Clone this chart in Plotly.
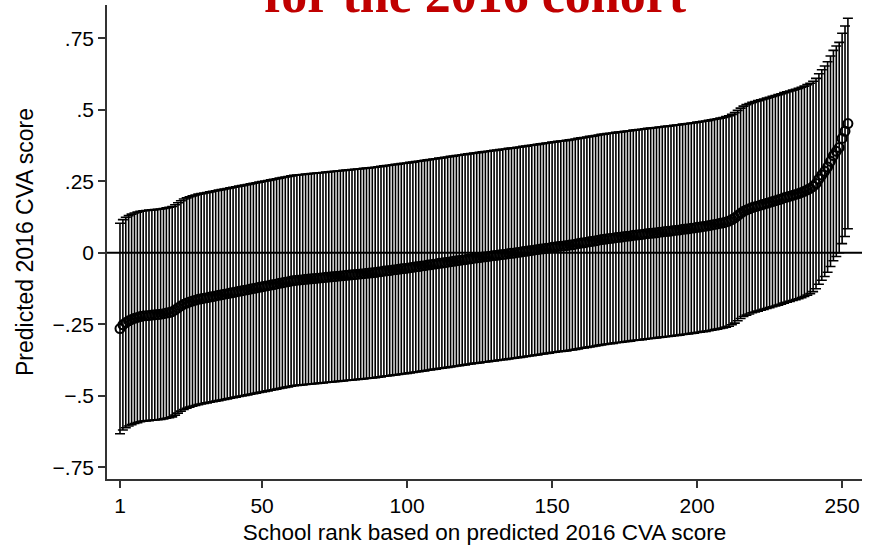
import plotly.graph_objects as go

# Predicted 2016 CVA score for each school, ordered by rank (1 = lowest)
cva_estimate = [
    -0.265, -0.252, -0.244, -0.238, -0.233, -0.229, -0.226, -0.223, -0.221, -0.220,
    -0.219, -0.218, -0.217, -0.216, -0.215, -0.213, -0.211, -0.209, -0.206, -0.200,
    -0.193, -0.186, -0.180, -0.176, -0.172, -0.169, -0.166, -0.163, -0.161, -0.159,
    -0.157, -0.155, -0.153, -0.151, -0.149, -0.147, -0.145, -0.143, -0.141, -0.139,
    -0.137, -0.135, -0.133, -0.131, -0.129, -0.127, -0.125, -0.123, -0.121, -0.119,
    -0.117, -0.115, -0.113, -0.111, -0.109, -0.107, -0.105, -0.103, -0.101, -0.099,
    -0.097, -0.096, -0.095, -0.094, -0.093, -0.092, -0.091, -0.090, -0.089, -0.088,
    -0.087, -0.086, -0.085, -0.084, -0.083, -0.082, -0.081, -0.080, -0.079, -0.078,
    -0.077, -0.076, -0.075, -0.074, -0.073, -0.072, -0.071, -0.070, -0.069, -0.067,
    -0.066, -0.064, -0.063, -0.062, -0.060, -0.059, -0.058, -0.056, -0.055, -0.054,
    -0.052, -0.051, -0.049, -0.048, -0.046, -0.045, -0.043, -0.042, -0.040, -0.039,
    -0.037, -0.036, -0.034, -0.033, -0.031, -0.030, -0.028, -0.027, -0.025, -0.024,
    -0.022, -0.021, -0.019, -0.018, -0.017, -0.015, -0.014, -0.013, -0.011, -0.010,
    -0.009, -0.007, -0.006, -0.005, -0.003, -0.002, -0.001, 0.001, 0.002, 0.004,
    0.005, 0.007, 0.008, 0.010, 0.011, 0.013, 0.014, 0.016, 0.017, 0.019,
    0.020, 0.022, 0.023, 0.024, 0.025, 0.027, 0.028, 0.030, 0.032, 0.034,
    0.035, 0.037, 0.039, 0.040, 0.042, 0.044, 0.046, 0.047, 0.049, 0.050,
    0.051, 0.053, 0.054, 0.055, 0.057, 0.058, 0.059, 0.061, 0.062, 0.063,
    0.064, 0.066, 0.067, 0.068, 0.069, 0.070, 0.072, 0.073, 0.074, 0.075,
    0.076, 0.078, 0.079, 0.080, 0.082, 0.083, 0.084, 0.086, 0.087, 0.089,
    0.090, 0.092, 0.093, 0.095, 0.097, 0.099, 0.101, 0.103, 0.105, 0.108,
    0.111, 0.116, 0.122, 0.130, 0.138, 0.145, 0.150, 0.154, 0.158, 0.161,
    0.164, 0.167, 0.170, 0.173, 0.176, 0.179, 0.182, 0.185, 0.188, 0.192,
    0.195, 0.198, 0.201, 0.204, 0.207, 0.211, 0.215, 0.220, 0.225, 0.232,
    0.242, 0.258, 0.272, 0.285, 0.300, 0.320, 0.340, 0.355, 0.368, 0.400,
    0.425, 0.452,
]
school_rank = list(range(1, len(cva_estimate) + 1))

# Half-width of the 95% confidence interval around each estimate
ci_half_width = 0.368

x_tick_values = [1, 50, 100, 150, 200, 250]
y_tick_values = [0.75, 0.5, 0.25, 0, -0.25, -0.5, -0.75]
y_tick_labels = [".75", ".5", ".25", "0", "\u2212.25", "\u2212.5", "\u2212.75"]

title_text = "for the 2016 cohort"
x_title = "School rank based on predicted 2016 CVA score"
y_title = "Predicted 2016 CVA score"

font_family = "Liberation Sans, Arial, sans-serif"
axis_color = "#333333"

fig = go.Figure()

fig.add_trace(
    go.Scatter(
        x=school_rank,
        y=cva_estimate,
        mode="markers",
        marker=dict(
            symbol="circle-open",
            size=9,
            color="black",
            line=dict(color="black", width=2),
        ),
        error_y=dict(
            type="constant",
            value=ci_half_width,
            symmetric=True,
            color="black",
            thickness=1.6,
            width=5,
        ),
        showlegend=False,
        hoverinfo="skip",
    )
)

# Reference line at zero
fig.add_shape(
    type="line",
    xref="paper",
    yref="y",
    x0=0,
    x1=1,
    y0=0,
    y1=0,
    line=dict(color="black", width=2),
    layer="above",
)

# Heading sits partly above the top edge of the page
fig.add_annotation(
    text="<b>" + title_text + "</b>",
    xref="paper",
    yref="paper",
    x=0.488,
    y=0.958,
    xanchor="center",
    yanchor="bottom",
    showarrow=False,
    font=dict(family="Liberation Serif, DejaVu Serif, serif", size=52, color="#C00000"),
)

fig.update_layout(
    width=872,
    height=546,
    margin=dict(l=107, r=10, t=5, b=63),
    paper_bgcolor="white",
    plot_bgcolor="white",
    font=dict(family=font_family, size=21, color="black"),
    xaxis=dict(
        range=[-3.48, 256.86],
        tickvals=x_tick_values,
        ticktext=[str(v) for v in x_tick_values],
        ticks="outside",
        ticklen=7,
        tickwidth=1.5,
        tickcolor=axis_color,
        showline=True,
        linecolor=axis_color,
        linewidth=1.6,
        showgrid=False,
        zeroline=False,
        tickfont=dict(size=21),
        title=dict(text=x_title, font=dict(size=22.5), standoff=8),
    ),
    yaxis=dict(
        range=[-0.7913, 0.8666],
        tickvals=y_tick_values,
        ticktext=y_tick_labels,
        ticks="outside",
        ticklen=7,
        tickwidth=1.5,
        tickcolor=axis_color,
        showline=True,
        linecolor=axis_color,
        linewidth=1.6,
        showgrid=False,
        zeroline=False,
        tickfont=dict(size=21),
        title=dict(text=y_title, font=dict(size=23), standoff=12),
    ),
)

fig.write_html("out.html")
